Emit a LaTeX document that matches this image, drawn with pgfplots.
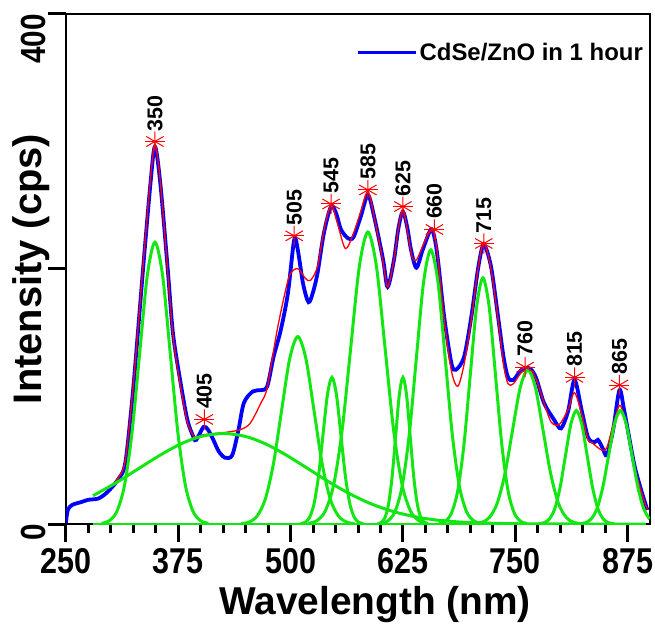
\documentclass[border=0pt]{standalone}
\usepackage{pgfplots}
\pgfplotsset{compat=1.18}
\usepackage{fontspec}
\setmainfont{Liberation Sans}
\definecolor{cblue}{RGB}{0,0,255}
\definecolor{cred}{RGB}{255,0,0}
\definecolor{cgreen}{RGB}{20,230,20}
\begin{document}
\begin{tikzpicture}
\begin{axis}[
  name=ax,
  scale only axis,
  width=584bp, height=510bp,
  xmin=250, xmax=900, ymin=0, ymax=400,
  xtick={250,375,500,625,750,875},
  minor x tick num=4,
  ytick={0,200,400},
  yticklabels={\scalebox{0.85}[1]{0},,\scalebox{0.85}[1]{400}},
  xtick pos=bottom, ytick pos=left,
  tick align=outside,
  major tick length=18bp, minor tick length=9bp,
  every tick/.style={black, line width=3bp},
  axis line style={line width=2.5bp},
  /pgf/number format/assume math mode=true,
  xticklabel={\scalebox{0.85}[1]{\pgfmathprintnumber{\tick}}},
  xticklabel style={font=\fontsize{36}{40}\selectfont\bfseries, inner sep=0pt, yshift=-6bp},
  yticklabel style={font=\fontsize{35}{40}\selectfont\bfseries, rotate=90, anchor=south east, inner sep=0pt, yshift=2bp},
  xlabel={Wavelength (nm)},
  ylabel={Intensity (cps)},
  xlabel style={font=\fontsize{39}{44}\selectfont\bfseries, at={(axis description cs:0.529,0)}, anchor=north, inner sep=0pt, yshift=-62bp},
  ylabel style={font=\fontsize{40}{44}\selectfont\bfseries, at={(axis description cs:0,0.5)}, anchor=base, inner sep=0pt, yshift=24bp},
  legend style={draw=none, fill=none, at={(axis description cs:1,1)}, anchor=north east, xshift=-5bp, yshift=-27bp, font=\fontsize{24}{27}\selectfont\bfseries, inner sep=0pt},
  legend image code/.code={\draw[#1, line width=3bp] (-8bp,0bp) -- (50bp,0bp);},
  legend cell align=left,
]
% measured spectrum
\addplot[cblue, line width=3.8bp, smooth, tension=0.5] coordinates {
(250,1) (252,11) (257,15) (266,17) (275,19) (286,20) (296,25) (308,35) (316,48) (324,100) (330,150) (336,202) (344,267) (349,296) (355,267) (363,202) (369,150) (377,113) (385,82) (392,68) (395,66) (403,76) (408,74) (414,66) (420,57) (427,52) (435,54) (442,74) (448,95) (458,104) (467,105) (474,108) (481,131) (489,152) (497,181) (504,223) (508,215) (514,188) (520,174) (525,182) (530,197) (537,228) (545,249) (551,243) (556,231) (564,224) (570,225) (578,241) (586,258) (593,241) (603,207) (608,186) (615,207) (620,232) (625,245) (630,232) (634,215) (640,201) (647,215) (656,231) (660,225) (664,207) (671,162) (679,126) (684,121) (693,131) (701,162) (709,202) (715,219) (723,202) (731,162) (737,131) (742,115) (748,113) (757,121) (766,122) (773,115) (782,95) (793,82) (801,75) (809,89) (816,113) (824,89) (831,68) (838,64) (842,66) (847,60) (852,54) (859,74) (866,105) (871,90) (876,71) (883,45) (890,27) (897,11)
};
\addlegendentry{CdSe/ZnO in 1 hour}
% fit
\addplot[cred, line width=1.3bp, smooth, tension=0.5, forget plot] coordinates {
(300,30) (308,36) (316,50) (324,102) (330,152) (336,205) (344,270) (349,298) (355,268) (363,200) (369,148) (377,110) (385,80) (392,69) (395,68) (403,70) (418,71) (429,72) (444,74) (455,79) (467,95) (474,107) (485,152) (497,191) (503,199) (509,200) (516,193) (522,191) (530,202) (537,230) (545,250) (552,236) (561,216) (570,228) (578,245) (586,261) (593,241) (603,205) (608,186) (615,207) (620,232) (625,247) (630,230) (635,210) (640,207) (647,218) (656,231) (660,227) (664,208) (671,160) (679,120) (686,108) (693,125) (701,160) (709,202) (715,221) (723,200) (731,160) (737,125) (742,110) (748,110) (757,119) (766,121) (773,114) (782,95) (790,80) (799,78) (809,90) (816,103) (824,86) (831,66) (835,64) (846,58) (852,60) (859,78) (866,93) (871,85) (876,68) (883,44) (890,26) (897,11)
};
% components
\pgfplotsset{comp/.style={cgreen, line width=3bp, smooth, forget plot}}
\addplot[comp] coordinates {(280,0) (895,0)};
\addplot[comp] coordinates {(280,22.2) (305,32.0) (330,43.1) (355,54.1) (377.5,62.7) (400,68.6) (425,71) (450,68.6) (472.5,62.7) (495,54.1) (520,43.1) (545,32.0) (567.5,23.1) (590,15.7) (615,9.6) (640,5.5) (662.5,3.1) (690,1.45) (710,0.8) (757.5,0.16) (820,0) (895,0)};
\addplot[comp] coordinates {(289.5,0.5) (298,2.5) (306.5,9.7) (315,29.9) (323.5,71.8) (332,134.0) (340.5,195.0) (349,221) (357.5,195.0) (366,134.0) (374.5,71.8) (383,29.9) (391.5,9.7) (400,2.5) (408.5,0.5)};
\addplot[comp] coordinates {(445,0.3) (454,1.6) (463,6.5) (472,19.9) (481,47.7) (490,89.2) (499,129.7) (508,147) (517,129.7) (526,89.2) (535,47.7) (544,19.9) (553,6.5) (562,1.6) (571,0.3)};
\addplot[comp] coordinates {(511,0.25) (516,1.3) (521,5.0) (526,15.6) (531,37.3) (536,69.7) (541,101.5) (546,115) (551,101.5) (556,69.7) (561,37.3) (566,15.6) (571,5.0) (576,1.3) (581,0.25)};
\addplot[comp] coordinates {(519.5,0.5) (529,2.5) (538.5,10.1) (548,31.0) (557.5,74.4) (567,138.9) (576.5,202.1) (586,229) (595.5,202.1) (605,138.9) (614.5,74.4) (624,31.0) (633.5,10.1) (643,2.5) (652.5,0.5)};
\addplot[comp] coordinates {(597,0.25) (601,1.3) (605,5.0) (609,15.6) (613,37.3) (617,69.7) (621,101.5) (625,115) (629,101.5) (633,69.7) (637,37.3) (641,15.6) (645,5.0) (649,1.3) (653,0.25)};
\addplot[comp] coordinates {(600,0.5) (608,2.4) (616,9.4) (624,29.1) (632,69.8) (640,130.4) (648,189.7) (656,215) (664,189.7) (672,130.4) (680,69.8) (688,29.1) (696,9.4) (704,2.4) (712,0.5)};
\addplot[comp] coordinates {(665,0.4) (672,2.1) (679,8.5) (686,26.1) (693,62.7) (700,117.1) (707,170.3) (714,193) (721,170.3) (728,117.1) (735,62.7) (742,26.1) (749,8.5) (756,2.1) (763,0.4)};
\addplot[comp] coordinates {(704.5,0.3) (713,1.3) (721.5,5.3) (730,16.4) (738.5,39.3) (747,73.4) (755.5,106.8) (764,121) (772.5,106.8) (781,73.4) (789.5,39.3) (798,16.4) (806.5,5.3) (815,1.3) (823.5,0.3)};
\addplot[comp] coordinates {(776,0.2) (782,1.0) (788,3.9) (794,12.0) (800,28.9) (806,54.0) (812,78.5) (818,89) (824,78.5) (830,54.0) (836,28.9) (842,12.0) (848,3.9) (854,1.0) (860,0.2)};
\addplot[comp] coordinates {(821.5,0.2) (828,1.0) (834.5,3.9) (841,12.0) (847.5,28.9) (854,54.0) (860.5,78.5) (867,89) (873.5,78.5) (880,54.0) (886.5,28.9) (893,12.0) (899.5,3.9)};
% peak markers
\addplot[only marks, cred, mark=asterisk, mark size=10bp, mark options={line width=1bp}, forget plot] coordinates {
(349,300) (404,82) (504,226) (545,251) (586,262) (625,249) (660,231) (715,220) (761,123) (816,115) (866,109)};
\addplot[only marks, cred, mark=-, mark size=10bp, mark options={line width=1bp}, forget plot,
  point meta=explicit symbolic, nodes near coords,
  every node near coord/.style={shift={(0bp,10bp)}, rotate=90, anchor=west, inner sep=0pt, black, font=\fontsize{21.5}{24}\selectfont\bfseries}] coordinates {
(349,300) [350] (404,82) [405] (504,226) [505] (545,251) [545] (586,262) [585] (625,249) [625] (660,231) [660] (715,220) [715] (761,123) [760] (816,115) [815] (866,109) [865]};
\end{axis}
\path ([xshift=-66bp,yshift=-108bp]ax.south west) rectangle ([xshift=5bp,yshift=14bp]ax.north east);
\end{tikzpicture}
\end{document}
